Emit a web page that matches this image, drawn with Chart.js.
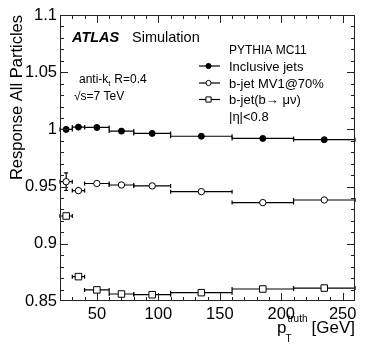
<!DOCTYPE html>
<html>
<head>
<meta charset="utf-8">
<script src="https://cdn.jsdelivr.net/npm/chart.js@4.4.1/dist/chart.umd.min.js"></script>
<style>
html,body{margin:0;padding:0;background:#fff;}
#wrap{width:374px;height:359px;}
</style>
</head>
<body>
<div id="wrap"><canvas id="c" width="374" height="359"></canvas></div>
<script>
// ---- data ----
const binLo     = [20, 30, 40, 60, 80, 110, 160, 210];
const binHi     = [30, 40, 60, 80, 110, 160, 210, 260];
const binCenter = [25, 35, 50, 70, 95, 135, 185, 235];

const inclusive    = [1.0000, 1.0020, 1.0017, 0.9985, 0.9965, 0.9940, 0.9921, 0.9910];
const inclusiveErr = [0.0010, 0.0006, 0.0004, 0.0004, 0.0004, 0.0004, 0.0004, 0.0004];

const mv1    = [0.9543, 0.9465, 0.9527, 0.9514, 0.9506, 0.9456, 0.9360, 0.9383];
const mv1Err = [0.0077, 0.0030, 0.0008, 0.0006, 0.0006, 0.0006, 0.0006, 0.0006];

const muNu    = [0.9243, 0.8713, 0.8597, 0.8561, 0.8555, 0.8573, 0.8605, 0.8613];
const muNuErr = [0.0012, 0.0010, 0.0008, 0.0006, 0.0006, 0.0006, 0.0006, 0.0006];

const xMajorTicks = [50, 100, 150, 200, 250];
const yMajorTicks = [0.85, 0.9, 0.95, 1, 1.05, 1.1];

const seriesNames = ['Inclusive jets', 'b-jet MV1@70%', 'b-jet(b\u2192 \u03bc\u03bd)'];

const FONT = '"Liberation Sans", Arial, Helvetica, sans-serif';

function pts(vals){ return binCenter.map((x,i)=>({x:x, y:vals[i]})); }

const errSets = [
  {vals: inclusive, errs: inclusiveErr},
  {vals: mv1, errs: mv1Err},
  {vals: muNu, errs: muNuErr}
];

const atlasPlugin = {
  id: 'atlas',
  beforeDatasetsDraw(chart){
    const ctx = chart.ctx, xs = chart.scales.x, ys = chart.scales.y;
    ctx.save();
    ctx.strokeStyle = '#000';
    ctx.lineWidth = 1.2;
    errSets.forEach(s=>{
      s.vals.forEach((v,i)=>{
        const x1 = xs.getPixelForValue(binLo[i]);
        const x2 = xs.getPixelForValue(binHi[i]);
        const xc = xs.getPixelForValue(binCenter[i]);
        const y  = ys.getPixelForValue(v);
        const yt = ys.getPixelForValue(v + s.errs[i]);
        const yb = ys.getPixelForValue(v - s.errs[i]);
        ctx.beginPath();
        ctx.moveTo(x1, y); ctx.lineTo(x2, y);
        ctx.moveTo(x1, y-2); ctx.lineTo(x1, y+2);
        ctx.moveTo(x2, y-2); ctx.lineTo(x2, y+2);
        ctx.moveTo(xc, yt); ctx.lineTo(xc, yb);
        if (yb - yt > 7){
          ctx.moveTo(xc-2, yt); ctx.lineTo(xc+2, yt);
          ctx.moveTo(xc-2, yb); ctx.lineTo(xc+2, yb);
        }
        ctx.stroke();
      });
    });
    ctx.restore();
  },
  afterDraw(chart){
    const ctx = chart.ctx, xs = chart.scales.x, ys = chart.scales.y;
    const a = chart.chartArea;
    ctx.save();
    // frame
    ctx.strokeStyle = '#222';
    ctx.lineWidth = 1;
    ctx.strokeRect(a.left+0.5, a.top+0.5, a.right-a.left-1, a.bottom-a.top-1);
    // x ticks (inward, bottom and top)
    ctx.beginPath();
    for (let v = 30; v < 260; v += 10){
      const px = Math.round(xs.getPixelForValue(v)) + 0.5;
      const len = xMajorTicks.includes(v) ? 8 : 4;
      ctx.moveTo(px, a.bottom); ctx.lineTo(px, a.bottom - len);
      ctx.moveTo(px, a.top); ctx.lineTo(px, a.top + len);
    }
    // y ticks (inward, left and right)
    for (let k = 86; k < 110; k++){
      const v = k/100;
      const py = Math.round(ys.getPixelForValue(v)) + 0.5;
      const len = (k % 5 === 0) ? 8 : 4;
      ctx.moveTo(a.left, py); ctx.lineTo(a.left + len, py);
      ctx.moveTo(a.right, py); ctx.lineTo(a.right - len, py);
    }
    ctx.stroke();

    ctx.fillStyle = '#000';
    ctx.textBaseline = 'alphabetic';
    ctx.textAlign = 'left';
    // ATLAS Simulation
    ctx.font = 'italic bold 14.5px ' + FONT;
    ctx.fillText('ATLAS', 72, 42);
    ctx.font = '14.5px ' + FONT;
    ctx.fillText('Simulation', 132, 42);
    // anti-kt
    ctx.font = '12px ' + FONT;
    let t = 'anti-k';
    ctx.fillText(t, 79, 83);
    let w = ctx.measureText(t).width;
    ctx.font = '8px ' + FONT;
    ctx.fillText('t', 79 + w, 86);
    ctx.font = '12px ' + FONT;
    ctx.fillText('R=0.4', 79 + w + 6, 83);
    ctx.fillText('\u221As=7 TeV', 74, 100);

    // legend
    const lx = 229;
    const rows = [49.5, 66, 83, 99.5, 116.5];
    ctx.font = '12px ' + FONT;
    ctx.fillText('PYTHIA MC11', lx, rows[0] + 4.5);
    ctx.font = '13px ' + FONT;
    chart.data.datasets.forEach((ds, i)=>{
      const yc = rows[i+1];
      ctx.strokeStyle = '#000';
      ctx.lineWidth = 1.2;
      ctx.beginPath();
      ctx.moveTo(199, yc); ctx.lineTo(220, yc);
      ctx.stroke();
      ctx.lineWidth = 1;
      ctx.fillStyle = ds.pointBackgroundColor;
      ctx.beginPath();
      if (ds.pointStyle === 'rect'){
        const s = 2.6;
        ctx.rect(208.5 - s, yc - s, 2*s, 2*s);
      } else {
        ctx.arc(208.5, yc, 2.6, 0, Math.PI*2);
      }
      ctx.fill(); ctx.stroke();
      ctx.fillStyle = '#000';
      ctx.fillText(seriesNames[i], lx, yc + 4.5);
    });
    ctx.fillText('|\u03b7|<0.8', lx, rows[4] + 4.5);

    // x-axis title p_T^truth [GeV]
    ctx.font = '17px ' + FONT;
    ctx.fillText('p', 277, 333);
    ctx.font = '10px ' + FONT;
    ctx.fillText('T', 285.5, 341.5);
    ctx.fillText('truth', 287.5, 322);
    ctx.font = '17px ' + FONT;
    ctx.textAlign = 'right';
    ctx.fillText('[GeV]', 355, 333);
    ctx.restore();
  }
};

new Chart(document.getElementById('c'), {
  type: 'scatter',
  data: {
    datasets: [
      { label: seriesNames[0], data: pts(inclusive), pointStyle: 'circle', pointRadius: 3,
        pointBackgroundColor: '#000', pointBorderColor: '#000', pointBorderWidth: 1 },
      { label: seriesNames[1], data: pts(mv1), pointStyle: 'circle', pointRadius: 3.2,
        pointBackgroundColor: '#fff', pointBorderColor: '#000', pointBorderWidth: 1 },
      { label: seriesNames[2], data: pts(muNu), pointStyle: 'rect', pointRadius: 4.6,
        pointBackgroundColor: '#fff', pointBorderColor: '#000', pointBorderWidth: 1 }
    ]
  },
  options: {
    responsive: false,
    animation: false,
    layout: { padding: { left: 0, top: 15, right: 19, bottom: 0 } },
    plugins: { legend: { display: false }, tooltip: { enabled: false } },
    scales: {
      x: {
        type: 'linear', min: 20, max: 260,
        grid: { display: false, drawTicks: false },
        border: { display: false },
        afterBuildTicks: s => { s.ticks = xMajorTicks.map(v => ({ value: v })); },
        afterFit: s => { s.height = 58; },
        ticks: { padding: 4, color: '#000', font: { family: FONT, size: 16.5 }, maxRotation: 0,
                 callback: v => String(v) }
      },
      y: {
        type: 'linear', min: 0.85, max: 1.1,
        grid: { display: false, drawTicks: false },
        border: { display: false },
        afterBuildTicks: s => { s.ticks = yMajorTicks.map(v => ({ value: v })); },
        afterFit: s => { s.width = 60; },
        ticks: { padding: 3, color: '#000', font: { family: FONT, size: 16.5 },
                 callback: v => String(parseFloat(v.toFixed(2))) },
        title: { display: true, text: 'Response All Particles', align: 'end', color: '#000',
                 font: { family: FONT, size: 16.5 }, padding: { top: 8, bottom: 0 } }
      }
    }
  },
  plugins: [atlasPlugin]
});
</script>
</body>
</html>
